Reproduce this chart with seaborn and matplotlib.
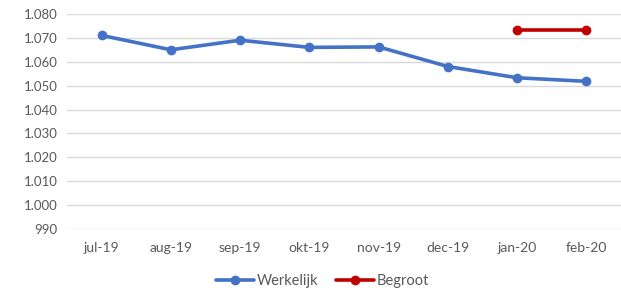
import pandas as pd
import matplotlib.pyplot as plt
import matplotlib.ticker as mticker
import seaborn as sns

# Data
maanden = ['jul-19', 'aug-19', 'sep-19', 'okt-19', 'nov-19', 'dec-19', 'jan-20', 'feb-20']
werkelijk = [1071, 1065, 1069, 1066, 1066.2, 1058, 1053.3, 1051.8]
begroot_maanden = ['jan-20', 'feb-20']
begroot = [1073.3, 1073.3]

df = pd.concat([
    pd.DataFrame({'maand': maanden, 'waarde': werkelijk, 'serie': 'Werkelijk'}),
    pd.DataFrame({'maand': begroot_maanden, 'waarde': begroot, 'serie': 'Begroot'}),
], ignore_index=True)

sns.set_style('white')
plt.rcParams['font.family'] = ['Lato', 'DejaVu Sans']

fig = plt.figure(figsize=(6.21, 2.9), dpi=100)
ax = fig.add_axes([0.108, 0.21, 0.892, 0.742])

sns.lineplot(
    data=df, x='maand', y='waarde', hue='serie',
    palette={'Werkelijk': '#4472C4', 'Begroot': '#C00000'},
    marker='o', markersize=7, markeredgewidth=0, linewidth=2.6,
    sort=False, ax=ax, legend=True
)

ax.set_xlim(-0.5, len(maanden) - 0.5)
ax.set_ylim(990, 1080)
ax.yaxis.set_major_locator(mticker.MultipleLocator(10))
ax.yaxis.set_major_formatter(mticker.FuncFormatter(lambda v, p: f'{v:,.0f}'.replace(',', '.')))
ax.grid(axis='y', color='#d9d9d9', linewidth=1)
ax.set_axisbelow(True)
for s in ax.spines.values():
    s.set_visible(False)
ax.tick_params(axis='y', length=0, labelsize=9.5, colors='#595959', pad=7)
ax.tick_params(axis='x', length=0, labelsize=10, colors='#595959', pad=9)
ax.set_xlabel('')
ax.set_ylabel('')

handles, labels = ax.get_legend_handles_labels()
ax.get_legend().remove()
fig.legend(handles, labels, loc='center', bbox_to_anchor=(0.52, 0.032), ncol=2,
           frameon=False, fontsize=10.5, handlelength=2.6, handletextpad=0.2,
           columnspacing=1.2, labelcolor='#595959')

plt.savefig('out.png', dpi=100)
plt.close()
